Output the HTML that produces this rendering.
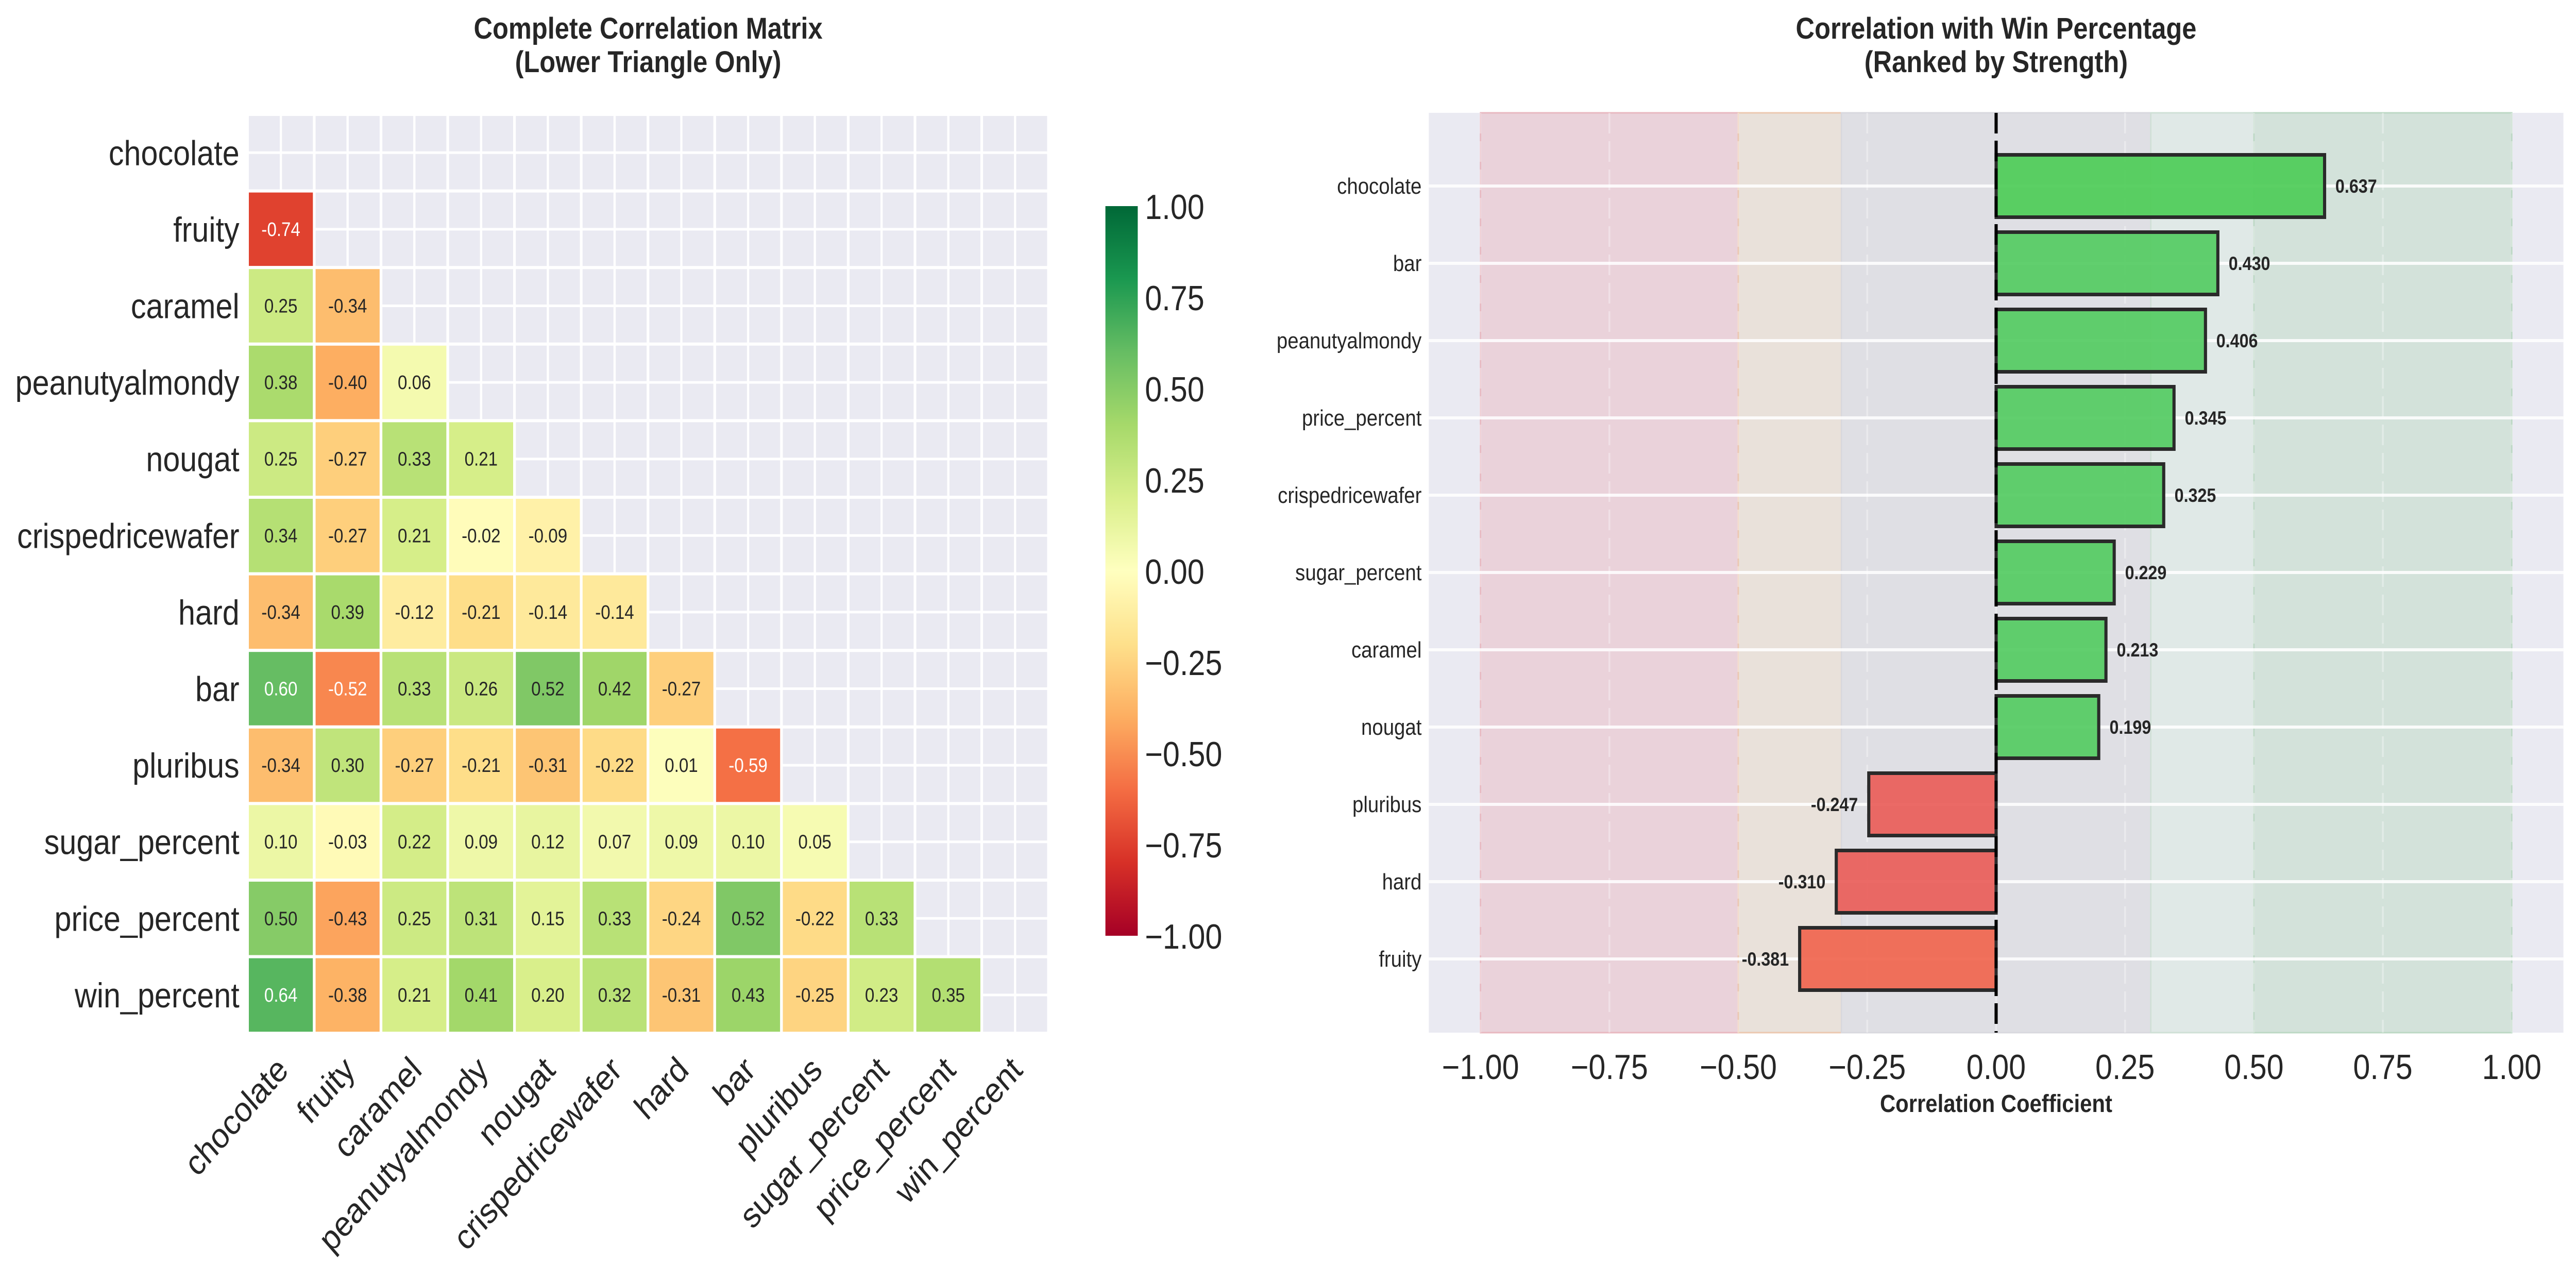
<!DOCTYPE html>
<html><head><meta charset="utf-8"><style>
html,body{margin:0;padding:0;background:#fff;width:100%;height:100%;overflow:hidden;}
svg{display:block;width:100vw;height:100vh;font-family:"Liberation Sans",Arial,sans-serif;}
</style></head><body>
<svg id="fig" viewBox="0 0 5735 2453" preserveAspectRatio="none" xmlns="http://www.w3.org/2000/svg">
<rect x="0" y="0" width="5735" height="2453" fill="#fff"/>
<g id="left"></g>
<g id="cbar"></g>
<g id="right"></g>
</svg>
<script>
const labels = ["chocolate","fruity","caramel","peanutyalmondy","nougat","crispedricewafer","hard","bar","pluribus","sugar_percent","price_percent","win_percent"];
const corrRows = [
 [],
 [-0.74],
 [0.25,-0.34],
 [0.38,-0.40,0.06],
 [0.25,-0.27,0.33,0.21],
 [0.34,-0.27,0.21,-0.02,-0.09],
 [-0.34,0.39,-0.12,-0.21,-0.14,-0.14],
 [0.60,-0.52,0.33,0.26,0.52,0.42,-0.27],
 [-0.34,0.30,-0.27,-0.21,-0.31,-0.22,0.01,-0.59],
 [0.10,-0.03,0.22,0.09,0.12,0.07,0.09,0.10,0.05],
 [0.50,-0.43,0.25,0.31,0.15,0.33,-0.24,0.52,-0.22,0.33],
 [0.64,-0.38,0.21,0.41,0.20,0.32,-0.31,0.43,-0.25,0.23,0.35]
];
const cbarTicks = [-1.00,-0.75,-0.50,-0.25,0.00,0.25,0.50,0.75,1.00];
const barCats = ["chocolate","bar","peanutyalmondy","price_percent","crispedricewafer","sugar_percent","caramel","nougat","pluribus","hard","fruity"];
const barVals = [0.637,0.430,0.406,0.345,0.325,0.229,0.213,0.199,-0.247,-0.310,-0.381];
const xTicks = [-1.00,-0.75,-0.50,-0.25,0.00,0.25,0.50,0.75,1.00];

const NS="http://www.w3.org/2000/svg";
function mk(parent,tag,attrs,text){const e=document.createElementNS(NS,tag);for(const k in attrs)e.setAttribute(k,attrs[k]);if(text!==undefined)e.textContent=text;parent.appendChild(e);return e;}

const stops=["#a50026","#d73027","#f46d43","#fdae61","#fee08b","#ffffbf","#d9ef8b","#a6d96a","#66bd63","#1a9850","#006837"];
function hex(h){return [parseInt(h.substr(1,2),16),parseInt(h.substr(3,2),16),parseInt(h.substr(5,2),16)];}
function cmapRGB(v){let t=(v+1)/2;t=Math.max(0,Math.min(1,t));const p=t*10;let i=Math.floor(p);if(i>=10)i=9;const f=p-i;const a=hex(stops[i]),b=hex(stops[i+1]);return a.map((c,k)=>Math.round(c+(b[k]-c)*f));}
function cmap(v){const c=cmapRGB(v);return `rgb(${c[0]},${c[1]},${c[2]})`;}
function lum(c){const l=c.map(x=>{x/=255;return x<=0.03928?x/12.92:Math.pow((x+0.055)/1.055,2.4);});return 0.2126*l[0]+0.7152*l[1]+0.0722*l[2];}

// ---------- Heatmap ----------
const L=document.getElementById('left');
const hx0=551,hy0=222,cw=148.6,n=labels.length;
const hW=cw*n;
const hbg=mk(L,'rect',{x:hx0,y:hy0,width:hW,height:hW,fill:'#eaeaf2'});


for(let i=0;i<=n;i++){
  mk(L,'line',{x1:hx0+i*cw,x2:hx0+i*cw,y1:hy0,y2:hy0+hW,stroke:'#fff','stroke-width':6});
  mk(L,'line',{y1:hy0+i*cw,y2:hy0+i*cw,x1:hx0,x2:hx0+hW,stroke:'#fff','stroke-width':6});
}
for(let i=0;i<n;i++){
  mk(L,'line',{x1:hx0+(i+.5)*cw,x2:hx0+(i+.5)*cw,y1:hy0,y2:hy0+hW,stroke:'#fff','stroke-width':5});
  mk(L,'line',{y1:hy0+(i+.5)*cw,y2:hy0+(i+.5)*cw,x1:hx0,x2:hx0+hW,stroke:'#fff','stroke-width':5});
}
corrRows.forEach((row,r)=>{
  row.forEach((v,c)=>{
    const rc=cmapRGB(v);
    const cell=mk(L,'rect',{x:hx0+c*cw,y:hy0+r*cw,width:cw,height:cw,fill:cmap(v),stroke:'#fff','stroke-width':6});
    
    
    const t=mk(L,'text',{x:hx0+(c+.5)*cw,y:hy0+(r+.5)*cw+13,'text-anchor':'middle','font-size':38,fill:lum(rc)<0.408?'#fff':'#262626'},v.toFixed(2));
    
    
  });
});
labels.forEach((lab,i)=>{
  const t=mk(L,'text',{x:hx0-18,y:hy0+(i+.5)*cw+24,'text-anchor':'end','font-size':68,fill:'#262626'},lab);
  
  
  const cx=hx0+(i+.5)*cw, cy=hy0+hW+30;
  const u=mk(L,'text',{x:cx+20,y:cy+45,'text-anchor':'end','font-size':68,fill:'#262626',transform:`rotate(-45 ${cx+20} ${cy+45})`},lab);
  
  
});
const t1=mk(L,'text',{x:1443,y:75,'text-anchor':'middle','font-size':58,'font-weight':'bold',fill:'#262626'},'Complete Correlation Matrix');


const t2=mk(L,'text',{x:1443,y:140,'text-anchor':'middle','font-size':58,'font-weight':'bold',fill:'#262626'},'(Lower Triangle Only)');



// ---------- Colorbar ----------
const C=document.getElementById('cbar');
const cbx=2461,cbw=72,cbTop=400,cbBot=1816;
const defs=mk(C,'defs',{});
const grad=mk(defs,'linearGradient',{id:'rdylgn',x1:0,y1:1,x2:0,y2:0});
stops.forEach((s,i)=>mk(grad,'stop',{offset:(i*10)+'%','stop-color':s}));
const cb=mk(C,'rect',{x:cbx,y:cbTop,width:cbw,height:cbBot-cbTop,fill:'url(#rdylgn)'});


function cby(v){return cbBot-(v+1)/2*(cbBot-cbTop);}
cbarTicks.forEach(v=>{
  const t=mk(C,'text',{x:cbx+cbw+16,y:cby(v)+25,'font-size':68,fill:'#262626'},(v<0?'\u2212':'')+Math.abs(v).toFixed(2));
  
  
});

// ---------- Bar chart ----------
const R=document.getElementById('right');
const ax0=3181,ax1=5707,ay0=219,ay1=2004;
const zeroX=4444,unit=1148;
function xs(v){return zeroX+v*unit;}
const spacing=150, firstY=361, barH=121;
function ys(i){return firstY+i*spacing;}
const rb=mk(R,'rect',{x:ax0,y:ay0,width:ax1-ax0,height:ay1-ay0,fill:'#eaeaf2'});


const bands=[[-1,-0.5,'#ead2da','#e8b8c0'],[-0.5,-0.3,'#e9e1da','#ecc8b0'],[-0.3,0.3,'#dfdfe4','#d8d8de'],[0.3,0.5,'#e0e9e7','#cfe0d6'],[0.5,1,'#d3e2da','#bcd8c4']];
bands.forEach(b=>{
  const r=mk(R,'rect',{x:xs(b[0]),y:ay0,width:xs(b[1])-xs(b[0]),height:ay1-ay0,fill:b[2],stroke:b[3],'stroke-width':3});
  
  
});
xTicks.forEach(v=>{
  mk(R,'line',{x1:xs(v),x2:xs(v),y1:ay0,y2:ay1,stroke:'#ffffff','stroke-opacity':0.35,'stroke-width':4,'stroke-dasharray':'40 15'});
});
barCats.forEach((c,i)=>{
  mk(R,'line',{x1:ax0,x2:ax1,y1:ys(i),y2:ys(i),stroke:'#fff','stroke-opacity':0.85,'stroke-width':6});
});
barVals.forEach((v,i)=>{
  let fill=v>=0?'#55cb63':'#ea5f5a';
  if(i===0) fill='#4fcc58';
  if(i===barVals.length-1) fill='#f06650';
  const x=Math.min(xs(0),xs(v)), w=Math.abs(xs(v)-xs(0));
  const b=mk(R,'rect',{x:x,y:ys(i)-barH/2,width:w,height:barH,fill:fill,'fill-opacity':0.93,stroke:'#2a2a2a','stroke-width':7});
  
  
  const lx=v>=0?xs(v)+24:xs(v)-24;
  const t=mk(R,'text',{x:lx,y:ys(i)+13,'text-anchor':v>=0?'start':'end','font-size':37,'font-weight':'bold',fill:'#262626'},v.toFixed(3));
  
  
  const yl=mk(R,'text',{x:ax0-16,y:ys(i)+15,'text-anchor':'end','font-size':44,fill:'#262626'},barCats[i]);
  
  
});
const zl=mk(R,'line',{x1:xs(0),x2:xs(0),y1:ay0,y2:ay1,stroke:'#000','stroke-width':7,'stroke-dasharray':'40 14'});


xTicks.forEach(v=>{
  const t=mk(R,'text',{x:xs(v),y:2094,'text-anchor':'middle','font-size':68,fill:'#262626'},(v<0?'\u2212':'')+Math.abs(v).toFixed(2));
  
  
});
const xl=mk(R,'text',{x:xs(0),y:2158,'text-anchor':'middle','font-size':48,'font-weight':'bold',fill:'#262626'},'Correlation Coefficient');


const r1=mk(R,'text',{x:xs(0),y:75,'text-anchor':'middle','font-size':58,'font-weight':'bold',fill:'#262626'},'Correlation with Win Percentage');


const r2=mk(R,'text',{x:xs(0),y:140,'text-anchor':'middle','font-size':58,'font-weight':'bold',fill:'#262626'},'(Ranked by Strength)');


</script>
</body></html>
